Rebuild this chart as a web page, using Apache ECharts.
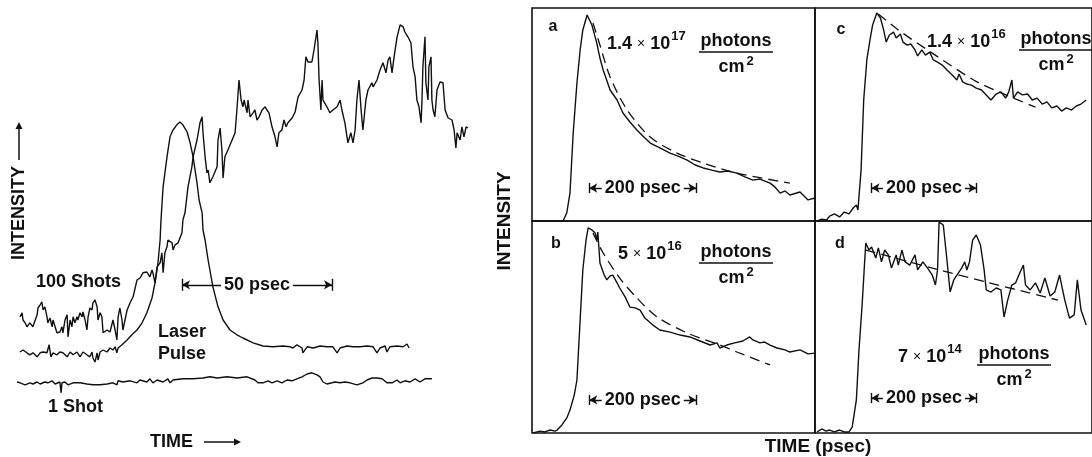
<!DOCTYPE html>
<html>
<head>
<meta charset="utf-8">
<script src="https://cdn.jsdelivr.net/npm/echarts@6/dist/echarts.min.js"></script>
<style>
  html, body { margin: 0; padding: 0; background: #fff; }
  #chart { width: 1092px; height: 457px; }
</style>
</head>
<body>
<div id="chart"></div>
<script>
// ---- left panel: time (psec) vs intensity (arb. units 0-100) ----
const shots100 = [
  [2.0,23.3],[2.7,24.3],[3.0,22.5],[3.7,21.8],[4.3,20.8],[5.3,21.8],[6.3,20.8],[7.7,23.8],[8.0,25.5],[8.7,26.3],
  [9.3,27.0],[9.7,25.0],[10.3,25.8],[11.0,23.3],[11.3,21.8],[12.0,23.0],[12.7,20.8],[13.0,22.5],[13.7,20.8],[14.3,19.3],
  [14.7,18.8],[15.3,19.5],[16.0,20.8],[16.3,19.3],[17.0,22.5],[17.7,23.8],[18.0,18.3],[18.7,22.5],[19.3,20.8],[19.7,23.3],
  [20.3,21.8],[21.0,23.3],[21.3,22.5],[22.0,24.3],[22.7,23.3],[23.0,24.5],[23.7,22.5],[24.3,20.0],[24.7,23.3],[25.3,25.5],
  [26.0,25.0],[26.3,26.8],[27.0,27.5],[27.7,25.8],[28.0,22.5],[28.7,24.3],[29.3,23.3],[29.7,19.3],[30.3,18.8],[31.0,20.0],
  [32.0,19.5],[33.0,22.5],[33.7,20.0],[34.3,17.5],[34.7,23.3],[35.3,25.5],[36.0,22.5],[36.3,20.0],[37.0,22.5],[37.7,25.0],
  [38.7,26.8],[39.7,28.3],[41.0,32.5],[42.0,33.0],[43.0,34.3],[44.3,34.5],[45.3,33.3],[46.0,35.0],[46.3,34.3],[47.0,31.8],
  [47.7,35.8],[48.7,36.8],[49.3,39.3],[49.7,34.3],[50.3,39.3],[51.0,40.8],[51.3,42.5],[52.7,41.8],[53.0,40.0],[53.7,41.3],
  [54.7,41.8],[56.0,44.3],[56.3,47.5],[57.0,49.3],[58.0,55.8],[59.3,60.8],[59.7,63.3],[61.0,67.5],[62.0,71.8],[62.7,73.3],
  [63.0,69.3],[63.7,63.3],[64.3,59.3],[64.7,60.0],[65.3,56.8],[66.3,58.3],[67.7,60.8],[68.0,67.5],[68.7,70.5],[69.3,65.0],
  [69.7,58.0],[70.3,63.3],[71.3,65.0],[72.7,67.5],[73.7,69.3],[74.3,75.0],[75.0,82.5],[75.7,77.5],[76.3,75.8],[76.7,77.5],
  [77.7,74.3],[78.0,77.5],[78.7,73.3],[79.7,74.3],[80.3,75.0],[81.0,72.5],[81.7,73.3],[82.7,75.0],[83.7,75.8],[84.3,75.0],
  [85.0,74.3],[86.0,70.8],[87.0,68.3],[87.7,65.8],[88.3,69.3],[89.3,70.0],[90.0,72.5],[90.7,70.8],[91.3,71.8],[92.7,73.0],
  [93.7,74.5],[94.7,78.3],[96.0,80.0],[96.7,82.5],[97.3,88.3],[98.0,87.0],[99.3,87.0],[100.0,90.0],[101.0,95.0],[101.3,91.8],
  [101.7,82.5],[102.3,75.0],[102.7,82.5],[103.0,77.5],[104.3,75.8],[105.3,74.3],[106.3,75.0],[107.7,75.8],[108.7,77.5],[109.3,75.0],
  [110.3,71.8],[111.3,66.8],[112.3,69.3],[113.0,66.8],[113.7,70.0],[114.3,77.5],[115.0,82.5],[115.7,75.0],[116.3,70.0],[117.3,77.5],
  [118.0,80.0],[119.3,81.8],[119.7,80.8],[121.0,82.5],[122.0,85.0],[123.0,86.8],[124.0,84.3],[124.7,87.5],[125.3,88.3],[126.0,84.3],
  [126.7,88.3],[127.3,88.3],[127.7,93.3],[128.7,96.3],[129.7,95.8],[130.3,94.5],[131.3,93.3],[132.3,91.8],[133.0,85.8],[133.7,83.3],
  [134.3,77.5],[135.0,75.8],[135.7,71.8],[136.0,77.5],[136.3,85.8],[137.0,93.3],[137.3,81.8],[138.0,77.5],[138.3,85.8],[139.0,88.3],
  [139.3,77.5],[139.7,75.0],[140.3,73.3],[141.0,80.0],[142.0,82.0],[143.0,81.8],[143.7,75.0],[144.7,73.0],[146.0,72.5],[146.7,70.0],
  [147.3,65.5],[147.7,69.3],[148.7,67.5],[149.3,70.8],[150.0,68.3],[150.7,70.8],[151.3,70.5]
];
const laserPulse = [
  [2.0,14.5],[3.0,15.0],[4.3,14.3],[5.3,13.8],[6.3,14.3],[7.7,13.3],[8.7,14.3],[9.7,14.5],[11.0,14.3],[11.7,16.3],
  [12.3,13.3],[13.0,14.3],[14.3,13.8],[15.3,14.5],[16.3,14.3],[17.7,13.3],[18.7,14.5],[19.7,13.8],[21.0,14.5],[22.0,13.3],
  [23.0,14.5],[24.3,13.8],[25.3,13.3],[26.0,14.5],[26.3,13.0],[27.0,12.0],[27.7,14.3],[28.0,12.5],[28.7,14.5],[29.7,15.0],
  [31.0,14.5],[32.0,15.5],[33.0,15.0],[33.7,15.8],[34.3,14.3],[34.7,15.5],[36.0,16.3],[37.7,17.5],[39.3,18.8],[41.0,20.0],
  [42.7,21.8],[44.3,24.3],[46.0,28.0],[47.0,31.8],[48.0,36.8],[48.7,42.5],[49.0,47.5],[49.7,55.8],[51.0,63.3],[52.0,68.3],
  [53.0,70.0],[54.3,71.3],[55.3,72.0],[56.3,71.3],[57.7,69.5],[58.7,66.8],[59.7,63.3],[61.0,56.8],[61.7,52.5],[62.7,49.3],
  [63.0,45.0],[63.7,42.5],[64.7,37.5],[66.3,30.8],[68.0,25.8],[69.7,22.5],[72.0,20.0],[74.3,18.8],[76.3,18.0],[79.7,16.8],
  [83.0,16.0],[86.3,15.8],[89.7,16.0],[92.0,15.8],[93.0,15.5],[94.3,16.3],[96.0,15.5],[96.3,14.3],[97.7,15.8],[99.7,15.5],
  [102.0,16.0],[104.3,15.8],[106.3,15.8],[107.7,14.3],[108.7,15.5],[111.0,16.0],[113.0,15.8],[115.3,15.8],[117.7,16.0],[119.7,15.8],
  [121.0,14.3],[122.0,15.5],[123.7,16.0],[124.3,14.5],[125.3,15.8],[127.7,16.0],[129.7,15.8],[131.0,16.5],[131.7,15.5]
];
const shot1 = [
  [1.0,7.0],[2.0,6.8],[3.7,6.3],[5.3,6.8],[6.3,6.5],[7.7,7.0],[8.7,6.5],[10.3,7.0],[11.3,6.8],[12.7,7.3],
  [13.7,6.5],[15.3,7.0],[15.7,4.3],[16.0,6.8],[17.0,7.0],[18.0,6.3],[19.7,6.8],[22.0,6.8],[24.3,6.5],[26.3,6.3],
  [28.7,6.3],[31.0,6.5],[33.0,6.8],[34.3,6.3],[34.7,7.3],[36.3,7.0],[38.7,7.3],[41.0,6.8],[42.0,7.5],[44.3,7.0],
  [45.3,7.8],[46.3,6.8],[47.7,7.5],[49.7,7.0],[51.3,7.8],[52.0,6.8],[53.0,7.5],[56.3,7.8],[59.7,7.8],[63.0,8.0],
  [65.3,8.3],[67.7,8.0],[71.0,8.3],[74.3,8.0],[77.7,8.3],[80.3,7.5],[81.3,6.8],[83.0,6.8],[84.7,7.3],[86.0,6.8],
  [87.7,7.3],[89.3,6.8],[91.0,7.5],[92.7,7.3],[94.3,7.8],[96.0,8.3],[97.7,9.0],[99.3,9.3],[101.0,8.8],[102.0,8.3],
  [103.0,7.0],[104.3,6.5],[106.0,6.8],[107.0,7.0],[108.7,6.8],[110.3,7.0],[112.0,6.8],[114.3,6.3],[116.3,6.8],[117.7,7.5],
  [119.3,8.0],[121.0,8.0],[122.7,7.8],[124.3,6.8],[126.0,6.8],[127.7,7.5],[128.7,6.8],[130.3,7.3],[132.0,7.0],[133.7,7.8],
  [135.3,7.0],[137.0,7.8],[139.3,7.8]
];
const leftBar = [56, 50, 31.3];            // start (psec), length (psec), intensity

// ---- right panels a-d: time (psec) vs normalised intensity ----
const traceA = [
  [0,0],[58,0],[65,0.038],[71,0.131],[77,0.413],[84,0.648],[90,0.803],[95,0.897],[103,0.967],[112,0.920],
  [121,0.836],[127,0.765],[133,0.709],[146,0.615],[159,0.568],[170,0.507],[183,0.465],[196,0.427],[211,0.390],[221,0.366],
  [239,0.343],[258,0.319],[273,0.305],[290,0.286],[305,0.263],[320,0.249],[336,0.239],[351,0.230],[366,0.235],[383,0.225],
  [398,0.207],[413,0.192],[426,0.197],[445,0.178],[454,0.160],[464,0.131],[473,0.141],[482,0.122],[501,0.136],[516,0.099],[529,0.108]
];
const fitA = [[114,0.930],[127,0.826],[146,0.676],[178,0.521],[221,0.394],[271,0.319],[320,0.272],[383,0.225],[482,0.178]];
const traceB = [
  [2,0],[15,0.009],[24,0.005],[34,0.014],[43,0.009],[47,0.014],[56,0.038],[65,0.071],[71,0.108],[79,0.179],
  [84,0.250],[90,0.533],[95,0.769],[101,0.910],[105,0.967],[112,0.958],[118,0.943],[121,0.910],[123,0.948],[127,0.802],
  [135,0.745],[140,0.722],[146,0.741],[151,0.745],[159,0.708],[164,0.684],[174,0.642],[183,0.594],[193,0.590],[202,0.580],
  [211,0.542],[226,0.509],[239,0.486],[258,0.476],[277,0.462],[295,0.453],[314,0.434],[333,0.415],[346,0.425],[351,0.401],
  [364,0.415],[379,0.425],[394,0.434],[407,0.453],[413,0.439],[426,0.425],[435,0.429],[445,0.415],[458,0.401],[473,0.392],
  [482,0.382],[501,0.392],[516,0.373],[529,0.377]
];
const fitB = [[114,0.943],[133,0.849],[164,0.731],[196,0.637],[234,0.547],[290,0.472],[351,0.415],[383,0.382],[445,0.321]];
const traceC = [
  [4,0],[13,0.009],[22,0.005],[28,0.023],[37,0.033],[47,0.019],[56,0.042],[65,0.033],[73,0.061],[79,0.075],
  [82,0.052],[88,0.239],[93,0.568],[99,0.756],[105,0.850],[110,0.920],[118,0.977],[125,0.953],[131,0.897],[136,0.840],
  [142,0.873],[150,0.887],[155,0.859],[163,0.878],[168,0.840],[176,0.826],[183,0.831],[191,0.803],[196,0.775],[204,0.803],
  [211,0.779],[219,0.793],[226,0.756],[234,0.746],[243,0.732],[252,0.709],[262,0.685],[271,0.662],[275,0.690],[282,0.653],
  [290,0.643],[299,0.638],[308,0.624],[318,0.615],[327,0.592],[336,0.568],[346,0.596],[355,0.606],[364,0.577],[370,0.606],
  [376,0.662],[379,0.577],[387,0.606],[396,0.592],[406,0.596],[415,0.568],[424,0.577],[434,0.549],[443,0.559],[452,0.531],
  [462,0.540],[471,0.516],[480,0.531],[490,0.521],[499,0.540],[508,0.549],[518,0.568]
];
const fitC = [[121,0.972],[159,0.897],[221,0.793],[303,0.662],[351,0.606],[421,0.535]];
const traceD = [
  [4,0.005],[13,0.019],[21,0.009],[28,0.014],[37,0.005],[47,0.014],[56,0.005],[65,0.005],[71,0.028],[79,0.156],
  [84,0.392],[90,0.604],[95,0.816],[97,0.896],[103,0.863],[108,0.877],[116,0.825],[121,0.873],[127,0.807],[133,0.863],
  [140,0.840],[146,0.778],[155,0.840],[159,0.792],[166,0.863],[172,0.807],[181,0.792],[191,0.840],[196,0.769],[206,0.807],
  [215,0.778],[224,0.745],[230,0.698],[234,0.769],[237,0.995],[245,0.981],[252,0.816],[258,0.665],[265,0.722],[271,0.745],
  [280,0.778],[286,0.807],[290,0.769],[295,0.807],[301,0.910],[308,0.934],[316,0.887],[323,0.769],[327,0.675],[336,0.665],
  [346,0.684],[355,0.675],[361,0.547],[368,0.627],[376,0.698],[383,0.708],[391,0.755],[398,0.792],[402,0.698],[411,0.675],
  [421,0.708],[430,0.660],[439,0.731],[449,0.646],[458,0.665],[467,0.745],[477,0.627],[486,0.542],[495,0.557],[501,0.722],
  [508,0.580],[518,0.509]
];
const fitD = [[97,0.863],[224,0.778],[327,0.712],[464,0.627]];

const panelNames = ['a', 'b', 'c', 'd'];
const doseMantissa = ['1.4', '5', '1.4', '7'];
const doseExponent = ['17', '16', '16', '14'];
const barStart = [107, 107, 108, 108];      // psec, each bar is 200 psec long
const barLevel = [0.155, 0.156, 0.155, 0.165];

const traces = [traceA, traceB, traceC, traceD];
const fits = [fitA, fitB, fitC, fitD];

// ---- layout ----
const FONT = '"Liberation Sans", Arial, Helvetica, sans-serif';
const INK = '#111';
const panelBox = [
  { left: 532, top: 8, width: 283, height: 213 },
  { left: 532, top: 221, width: 283, height: 212 },
  { left: 815, top: 8, width: 283, height: 213 },
  { left: 815, top: 221, width: 283, height: 212 }
];
// text anchors for the dose labels: number start, fraction centre
const doseLayout = [
  { nx: 607, ny: 44, cx: 736, py: 41 },
  { nx: 618, ny: 254, cx: 736, py: 252 },
  { nx: 927, ny: 42, cx: 1056, py: 39 },
  { nx: 898, ny: 357, cx: 1014, py: 354 }
];
const letterPos = [[553, 27], [556, 244], [841, 30], [840, 244]];

const chart = echarts.init(document.getElementById('chart'));

function scaleBar(t0, len, y, tick, text) {
  return {
    silent: true,
    animation: false,
    symbol: ['arrow', 'arrow'],
    symbolSize: [7, 8],
    lineStyle: { color: INK, width: 1.4, type: 'solid' },
    label: {
      show: true, position: 'insideMiddle', distance: 0, formatter: text,
      fontFamily: FONT, fontWeight: 'bold', fontSize: 18, color: INK,
      backgroundColor: '#fff', padding: [0, 3]
    },
    data: [
      [{ coord: [t0, y] }, { coord: [t0 + len, y] }],
      [{ coord: [t0, y - tick], symbol: 'none', label: { show: false } }, { coord: [t0, y + tick], symbol: 'none', label: { show: false } }],
      [{ coord: [t0 + len, y - tick], symbol: 'none', label: { show: false } }, { coord: [t0 + len, y + tick], symbol: 'none', label: { show: false } }]
    ]
  };
}

function line(data, idx, extra) {
  return Object.assign({
    type: 'line', xAxisIndex: idx, yAxisIndex: idx, data: data,
    showSymbol: false, symbol: 'none', silent: true, animation: false, clip: true,
    lineStyle: { color: INK, width: 1.4 }
  }, extra || {});
}

const grids = [{ left: 14, top: 10, width: 456, height: 400, show: false }];
const xAxes = [{ type: 'value', gridIndex: 0, min: 0, max: 152, show: false }];
const yAxes = [{ type: 'value', gridIndex: 0, min: 0, max: 100, show: false }];
panelBox.forEach(function (b, i) {
  grids.push(Object.assign({ show: true, borderColor: INK, borderWidth: 1.6, backgroundColor: 'transparent' }, b));
  xAxes.push({ type: 'value', gridIndex: i + 1, min: 0, max: 529, show: false });
  yAxes.push({ type: 'value', gridIndex: i + 1, min: 0, max: 1, show: false });
});

const series = [
  line(shots100, 0),
  line(laserPulse, 0, { markLine: scaleBar(leftBar[0], leftBar[1], leftBar[2], 1.5, '50 psec') }),
  line(shot1, 0)
];
traces.forEach(function (d, i) {
  series.push(line(d, i + 1, { markLine: scaleBar(barStart[i], 200, barLevel[i], 0.024, '200 psec') }));
  series.push(line(fits[i], i + 1, { smooth: 0.3, lineStyle: { color: INK, width: 1.3, type: [10, 6] } }));
});

const txt = { fontFamily: FONT, fontWeight: 'bold', fill: INK };
const graphics = [];
function text(x, y, s, opt) {
  graphics.push(Object.assign({
    type: 'text', x: x, y: y, silent: true,
    style: Object.assign({ text: s, fontSize: 18, align: 'left', verticalAlign: 'middle' }, txt, (opt && opt.style) || {})
  }, opt && opt.rotation ? { rotation: opt.rotation } : {}));
}
function arrow(x1, y1, x2, y2) {
  graphics.push({ type: 'line', silent: true, shape: { x1: x1, y1: y1, x2: x2, y2: y2 }, style: { stroke: INK, lineWidth: 1.5 } });
  const dx = x2 - x1, dy = y2 - y1, L = Math.hypot(dx, dy), ux = dx / L, uy = dy / L;
  graphics.push({ type: 'polygon', silent: true, shape: { points: [
    [x2 + ux * 7, y2 + uy * 7], [x2 - uy * 3.5, y2 + ux * 3.5], [x2 + uy * 3.5, y2 - ux * 3.5]
  ] }, style: { fill: INK } });
}

// left panel labels
text(36, 282, '100 Shots');
text(158, 332, 'Laser');
text(158, 354, 'Pulse');
text(48, 407, '1 Shot');
text(150, 442, 'TIME');
arrow(204, 442, 234, 442);
text(19, 213, 'INTENSITY', { rotation: Math.PI / 2, style: { align: 'center' } });
arrow(19, 160, 19, 129);

// right panel labels
text(505, 221, 'INTENSITY', { rotation: Math.PI / 2, style: { align: 'center', fontSize: 19 } });
text(818, 447, 'TIME (psec)', { style: { align: 'center', fontSize: 19 } });
panelNames.forEach(function (n, i) {
  text(letterPos[i][0], letterPos[i][1], n, { style: { align: 'center', fontSize: 16 } });
  const L = doseLayout[i];
  graphics.push({
    type: 'text', x: L.nx, y: L.ny, silent: true,
    style: {
      text: '{n|' + doseMantissa[i] + ' }{x|×}{n| 10}{s|' + doseExponent[i] + '}',
      align: 'left', verticalAlign: 'middle',
      rich: {
        n: { fontFamily: FONT, fontWeight: 'bold', fontSize: 18, fill: INK },
        x: { fontFamily: FONT, fontSize: 14, fill: INK },
        s: { fontFamily: FONT, fontWeight: 'bold', fontSize: 13, fill: INK, padding: [0, 0, 15, 1] }
      }
    }
  });
  text(L.cx, L.py, 'photons', { style: { align: 'center' } });
  graphics.push({ type: 'line', silent: true, shape: { x1: L.cx - 37, y1: L.py + 11, x2: L.cx + 37, y2: L.py + 11 }, style: { stroke: INK, lineWidth: 1.6 } });
  graphics.push({
    type: 'text', x: L.cx, y: L.py + 26, silent: true,
    style: {
      text: '{n|cm}{s|2}', align: 'center', verticalAlign: 'middle',
      rich: {
        n: { fontFamily: FONT, fontWeight: 'bold', fontSize: 18, fill: INK },
        s: { fontFamily: FONT, fontWeight: 'bold', fontSize: 13, fill: INK, padding: [0, 0, 12, 2] }
      }
    }
  });
});

chart.setOption({
  animation: false,
  backgroundColor: '#fff',
  grid: grids,
  xAxis: xAxes,
  yAxis: yAxes,
  series: series,
  graphic: graphics
});
</script>
</body>
</html>
